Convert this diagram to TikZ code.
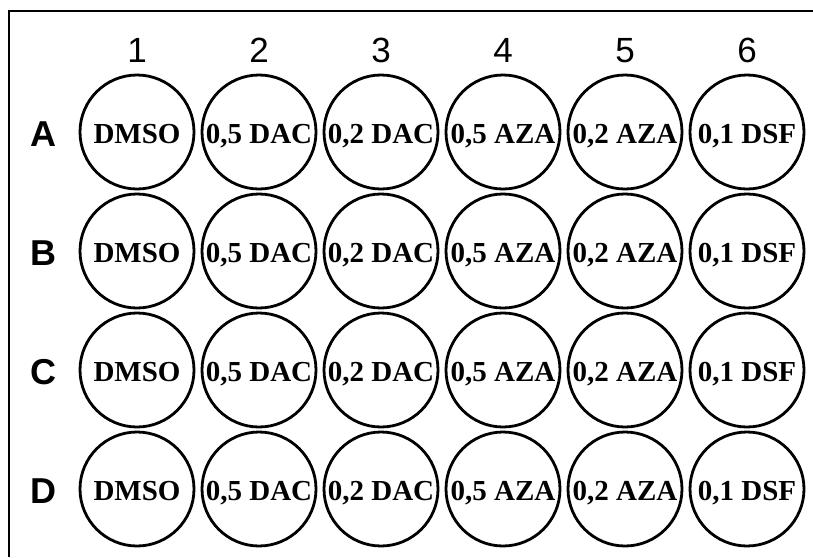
\documentclass[tikz,border=0pt]{standalone}
\usepackage{fontspec}
\setmainfont{Liberation Serif}
\newfontfamily\arialf{Liberation Sans}
\begin{document}
\begin{tikzpicture}[x=1pt,y=-1pt,
  well/.style={draw,line width=2.8pt,circle,minimum size=114pt,inner sep=0pt},
  welltext/.style={anchor=base,inner sep=0pt,font=\fontsize{29}{29}\selectfont\bfseries},
  collabel/.style={anchor=base,inner sep=0pt,font=\fontsize{35}{35}\selectfont\arialf},
  rowlabel/.style={anchor=base,inner sep=0pt,font=\fontsize{36}{36}\selectfont\arialf\bfseries},
  frame/.style={draw,line width=2.6pt}]
\useasboundingbox (0,0) rectangle (813,557);
\coordinate (fTR) at (813,11);
\coordinate (fTL) at (9,11);
\coordinate (fBL) at (9,557);
\draw[frame] (fTR) -- (fTL) -- (fBL);
\foreach \c [count=\i] in {1,2,3,4,5,6} {
  \node[collabel] (col\i) at ({137+122*(\i-1)},62) {\c};
}
\foreach \r [count=\j] in {A,B,C,D} {
  \node[rowlabel] (row\r) at (43,{132+119*(\j-1)+14}) {\r};
  \foreach \t [count=\i] in {DMSO,{0,5 DAC},{0,2 DAC},{0,5 AZA},{0,2 AZA},{0,1 DSF}} {
    \node[well] (w\r\i) at ({137+122*(\i-1)},{132+119*(\j-1)}) {};
    \node[welltext] (t\r\i) at ([yshift=-11pt]w\r\i.center) {\t};
  }
}
\end{tikzpicture}
\end{document}
